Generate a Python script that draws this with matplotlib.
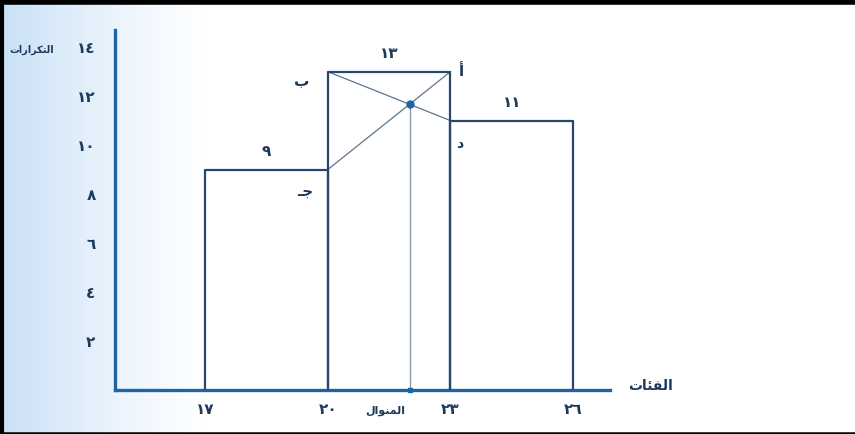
import numpy as np
import matplotlib
matplotlib.use('Agg')
import matplotlib.pyplot as plt

# histogram data (classes and frequencies)
class_edges = [17, 20, 23, 26]
freqs = [9, 13, 11]
y_ticks = [2, 4, 6, 8, 10, 12, 14]

y_title = 'التكرارات'
x_title = 'الفئات'
mode_title = 'المنوال'
corner_names = ['أ', 'ب', 'جـ', 'د']

AXIS_COLOR = '#1f64a3'
BAR_COLOR = '#27486b'
TEXT_COLOR = '#1d3a5a'
THIN_COLOR = '#5b7590'

# arabic presentation forms: (isolated, final, initial, medial)
FORMS = {
    'ا': ('\ufe8d', '\ufe8e', None, None),
    'ل': ('\ufedd', '\ufede', '\ufedf', '\ufee0'),
    'ت': ('\ufe95', '\ufe96', '\ufe97', '\ufe98'),
    'ك': ('\ufed9', '\ufeda', '\ufedb', '\ufedc'),
    'ر': ('\ufead', '\ufeae', None, None),
    'ف': ('\ufed1', '\ufed2', '\ufed3', '\ufed4'),
    'ئ': ('\ufe89', '\ufe8a', '\ufe8b', '\ufe8c'),
    'م': ('\ufee1', '\ufee2', '\ufee3', '\ufee4'),
    'ن': ('\ufee5', '\ufee6', '\ufee7', '\ufee8'),
    'و': ('\ufeed', '\ufeee', None, None),
    'ج': ('\ufe9d', '\ufe9e', '\ufe9f', '\ufea0'),
    'ـ': ('ـ', 'ـ', 'ـ', 'ـ'),
}


def shape(word):
    # very small arabic shaper + visual (rtl) ordering
    out = []
    for i, ch in enumerate(word):
        if ch not in FORMS:
            out.append(ch)
            continue
        prev = i > 0 and word[i - 1] in FORMS and FORMS[word[i - 1]][2] is not None
        nxt = i + 1 < len(word) and word[i + 1] in FORMS and FORMS[ch][2] is not None
        iso, fin, ini, med = FORMS[ch]
        if prev and nxt:
            out.append(med)
        elif prev:
            out.append(fin)
        elif nxt:
            out.append(ini)
        else:
            out.append(iso)
    return ''.join(out[::-1])


def ar_num(n):
    return str(n).translate(str.maketrans('0123456789', '٠١٢٣٤٥٦٧٨٩'))


plt.rcParams['font.family'] = ['DejaVu Sans']

fig = plt.figure(figsize=(8.55, 4.34), dpi=100)

# scanned paper look: light blue tint on the left
bg = fig.add_axes([0, 0, 1, 1])
grad = np.linspace(0, 1, 400)
tint = np.clip(1 - grad / 0.24, 0, 1) ** 1.2
img = np.ones((10, 400, 3))
img[:, :, 0] = 1 - 0.21 * tint
img[:, :, 1] = 1 - 0.12 * tint
img[:, :, 2] = 1 - 0.03 * tint
bg.imshow(img, extent=[0, 1, 0, 1], aspect='auto')
bg.plot([0, 1], [0.995, 0.995], color='black', lw=4)
bg.plot([0.002, 0.002], [0, 1], color='black', lw=3)
bg.plot([0, 1], [0.003, 0.003], color='black', lw=1.8)
bg.set_xlim(0, 1)
bg.set_ylim(0, 1)
bg.axis('off')

ax = fig.add_axes([115 / 855, 44 / 434, 495 / 855, 360 / 434])
ax.set_facecolor('none')
ax.set_xlim(14.8, 26.9)
ax.set_ylim(0, 14.7)
for s in ['top', 'right']:
    ax.spines[s].set_visible(False)
for s in ['left', 'bottom']:
    ax.spines[s].set_color(AXIS_COLOR)
    ax.spines[s].set_linewidth(2.4)

# bars as outlined rectangles
for i, f in enumerate(freqs):
    x0, x1 = class_edges[i], class_edges[i + 1]
    ax.plot([x0, x0, x1, x1], [0, f, f, 0], color=BAR_COLOR, lw=1.6, zorder=3)
    ax.text((x0 + x1) / 2, f + 0.45, ar_num(f), ha='center', va='bottom',
            fontsize=11, fontweight='bold', color=TEXT_COLOR)

# mode construction inside the modal class
m = int(np.argmax(freqs))
L, U = class_edges[m], class_edges[m + 1]
fm = freqs[m]
f_before = freqs[m - 1]
f_after = freqs[m + 1]
d1, d2 = fm - f_before, fm - f_after
mode = L + (U - L) * d1 / (d1 + d2)
mode_y = f_before + (fm - f_before) * (mode - L) / (U - L)

ax.plot([L, U], [fm, f_after], color=THIN_COLOR, lw=0.9, zorder=2)
ax.plot([U, L], [fm, f_before], color=THIN_COLOR, lw=0.9, zorder=2)
ax.plot([mode, mode], [0, mode_y], color='#8a9aab', lw=1.0, zorder=2)
ax.plot([mode], [mode_y], 'o', color=AXIS_COLOR, ms=5, zorder=4)
ax.plot([mode], [0], 's', color=AXIS_COLOR, ms=3, zorder=4, clip_on=False)

# corner letters
ax.text(U + 0.2, fm, shape(corner_names[0]), ha='left', va='center',
        fontsize=11, fontweight='bold', color=TEXT_COLOR)
ax.text(L - 0.45, fm - 0.4, shape(corner_names[1]), ha='right', va='center',
        fontsize=11, fontweight='bold', color=TEXT_COLOR)
ax.text(L - 0.35, f_before - 0.9, shape(corner_names[2]), ha='right', va='center',
        fontsize=11, fontweight='bold', color=TEXT_COLOR)
ax.text(U + 0.15, f_after - 0.95, shape(corner_names[3]), ha='left', va='center',
        fontsize=10, fontweight='bold', color=TEXT_COLOR)

ax.set_xticks(class_edges)
ax.set_xticklabels([ar_num(v) for v in class_edges], fontsize=11,
                   fontweight='bold', color=TEXT_COLOR)
ax.set_yticks(y_ticks)
ax.set_yticklabels([ar_num(v) for v in y_ticks], fontsize=11,
                   fontweight='bold', color=TEXT_COLOR)
ax.tick_params(axis='both', length=0)
ax.tick_params(axis='y', pad=14)
ax.tick_params(axis='x', pad=9)

ax.text(mode - 0.1, -0.65, shape(mode_title), ha='right', va='top',
        fontsize=8, fontweight='bold', color=TEXT_COLOR)
ax.text(27.35, 0.15, shape(x_title), ha='left', va='center',
        fontsize=10, fontweight='bold', color=TEXT_COLOR, clip_on=False)
ax.text(13.3, 13.9, shape(y_title), ha='right', va='center',
        fontsize=7, fontweight='bold', color=TEXT_COLOR, clip_on=False)

plt.savefig('out.png', dpi=100)
